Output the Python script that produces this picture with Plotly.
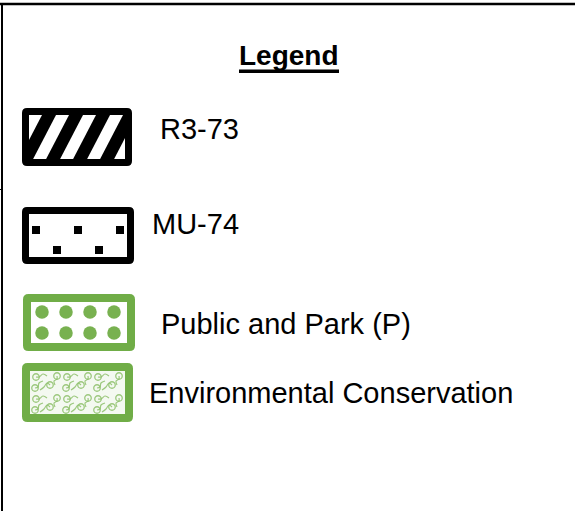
import plotly.graph_objects as go

W, H = 575, 511

# ---- content ----
title_text = "Legend"
labels = ["R3-73", "MU-74", "Public and Park (P)", "Environmental Conservation"]
patterns = ["stripes", "squares", "dots", "vines"]
border_colors = ["#000000", "#000000", "#70AD47", "#70AD47"]
mark_colors = ["#000000", "#000000", "#78B150", "#8DC06A"]

# ---- layout geometry (pixels) ----
boxes = [(22, 108, 132, 166), (22, 207, 134, 264), (23, 294, 135, 351), (22, 363, 133, 422)]
border_w = [7, 7, 8, 8]
label_x = [158, 150, 159, 147]
label_y = [129, 224, 324, 393]
FONT = "Liberation Sans, Arial, sans-serif"


def rrect_path(x0, y0, x1, y1, r):
    return (f"M{x0+r},{y0} L{x1-r},{y0} Q{x1},{y0} {x1},{y0+r} "
            f"L{x1},{y1-r} Q{x1},{y1} {x1-r},{y1} L{x0+r},{y1} "
            f"Q{x0},{y1} {x0},{y1-r} L{x0},{y0+r} Q{x0},{y0} {x0+r},{y0} Z")


def clip(poly, a, b, c):
    """keep a*x + b*y <= c"""
    out = []
    n = len(poly)
    for i in range(n):
        p, q = poly[i], poly[(i + 1) % n]
        fp = a * p[0] + b * p[1] - c
        fq = a * q[0] + b * q[1] - c
        if fp <= 0:
            out.append(p)
        if (fp < 0 < fq) or (fq < 0 < fp):
            t = fp / (fp - fq)
            out.append((p[0] + t * (q[0] - p[0]), p[1] + t * (q[1] - p[1])))
    return out


shapes = []
traces = []

# frame lines
shapes.append(dict(type="line", x0=0, x1=W, y0=4, y1=4, line=dict(color="black", width=2.5)))
shapes.append(dict(type="line", x0=2, x1=2, y0=3, y1=H, line=dict(color="black", width=2)))
shapes.append(dict(type="line", x0=0, x1=3, y0=189.5, y1=189.5, line=dict(color="black", width=1)))

for i, pat in enumerate(patterns):
    x0, y0, x1, y1 = boxes[i]
    w = border_w[i]
    ix0, iy0, ix1, iy1 = x0 + w, y0 + w, x1 - w, y1 - w
    col = mark_colors[i]
    if pat == "stripes":
        s = 0.52      # horizontal shift per pixel down
        sw = 14       # band width
        period = 27
        for k in range(-1, 6):
            c = ix0 + 20 + period * k
            rect = [(ix0, iy0), (ix1, iy0), (ix1, iy1), (ix0, iy1)]
            poly = clip(rect, 1, s, c + sw / 2 + s * iy0)
            poly = clip(poly, -1, -s, -(c - sw / 2 + s * iy0)) if poly else poly
            if len(poly) >= 3:
                d = "M" + " L".join(f"{px:.2f},{py:.2f}" for px, py in poly) + " Z"
                shapes.append(dict(type="path", path=d, fillcolor=col, line=dict(width=0)))
    elif pat == "squares":
        xs, ys = [], []
        for j in range(3):
            xs.append(x0 + 14 + 42 * j); ys.append(y0 + 23)
        for j in range(2):
            xs.append(x0 + 35 + 42 * j); ys.append(y0 + 43)
        traces.append(go.Scatter(x=xs, y=ys, mode="markers", hoverinfo="skip",
                                 marker=dict(symbol="square", size=8, color=col, line=dict(width=0))))
    elif pat == "dots":
        xs, ys = [], []
        for r in range(2):
            for j in range(4):
                xs.append(x0 + 19 + 24 * j); ys.append(y0 + 18 + 21 * r)
        traces.append(go.Scatter(x=xs, y=ys, mode="markers", hoverinfo="skip",
                                 marker=dict(symbol="circle", size=13.5, color=col, line=dict(width=0))))
    elif pat == "vines":
        shapes.append(dict(type="rect", x0=ix0, x1=ix1, y0=iy0, y1=iy1, layer="below",
                           fillcolor="#F4F9F1", line=dict(width=0)))
        tile_w, tile_h = 31, 22
        sprigs = [((6, 6), [(9, 6), (13, 3), (17, 5)]),
                  ((20, 14), [(17, 12), (14, 16), (10, 19)]),
                  ((27, 5), [(27, 8), (24, 10), (25, 14)]),
                  ((5, 17), [(8, 16), (9, 12), (13, 10)])]
        lx, ly = [], []
        for ty in range(2):
            for tx in range(3):
                ox, oy = ix0 + tx * tile_w, iy0 + ty * tile_h
                for (cx, cy), stem in sprigs:
                    lx.append(ox + cx); ly.append(oy + cy)
                    sx = [ox + cx] + [ox + p[0] for p in stem]
                    sy = [oy + cy] + [oy + p[1] for p in stem]
                    traces.append(go.Scatter(x=sx, y=sy, mode="lines", hoverinfo="skip", opacity=0.85,
                                             line=dict(color=col, width=1.2, shape="spline")))
        traces.append(go.Scatter(x=lx, y=ly, mode="markers", hoverinfo="skip", opacity=0.85,
                                 marker=dict(symbol="circle-open", size=6.5, color=col,
                                             line=dict(width=1.3, color=col))))
    h = w / 2
    shapes.append(dict(type="path", path=rrect_path(x0 + h, y0 + h, x1 - h, y1 - h, 1.5),
                       line=dict(color=border_colors[i], width=w), fillcolor="rgba(0,0,0,0)"))

# title underline
shapes.append(dict(type="rect", x0=239, x1=339, y0=69.5, y1=73, fillcolor="black", line=dict(width=0)))

annotations = [dict(text=f"<b>{title_text}</b>", x=289, y=55.5, xref="x", yref="y",
                    xanchor="center", yanchor="middle", showarrow=False,
                    font=dict(family=FONT, size=28, color="black"))]
for i, lab in enumerate(labels):
    annotations.append(dict(text=lab, x=label_x[i], y=label_y[i], xref="x", yref="y",
                            xanchor="left", yanchor="middle", showarrow=False,
                            font=dict(family=FONT, size=29, color="black")))

fig = go.Figure(traces)
fig.update_layout(
    width=W, height=H, autosize=False,
    margin=dict(l=0, r=0, t=0, b=0, pad=0),
    paper_bgcolor="white", plot_bgcolor="white",
    showlegend=False,
    xaxis=dict(range=[0, W], visible=False, fixedrange=True),
    yaxis=dict(range=[H, 0], visible=False, fixedrange=True),
    shapes=shapes, annotations=annotations,
)
fig.write_html("out.html", config={"displayModeBar": False, "staticPlot": True},
               post_script="document.body.style.margin='0';")
